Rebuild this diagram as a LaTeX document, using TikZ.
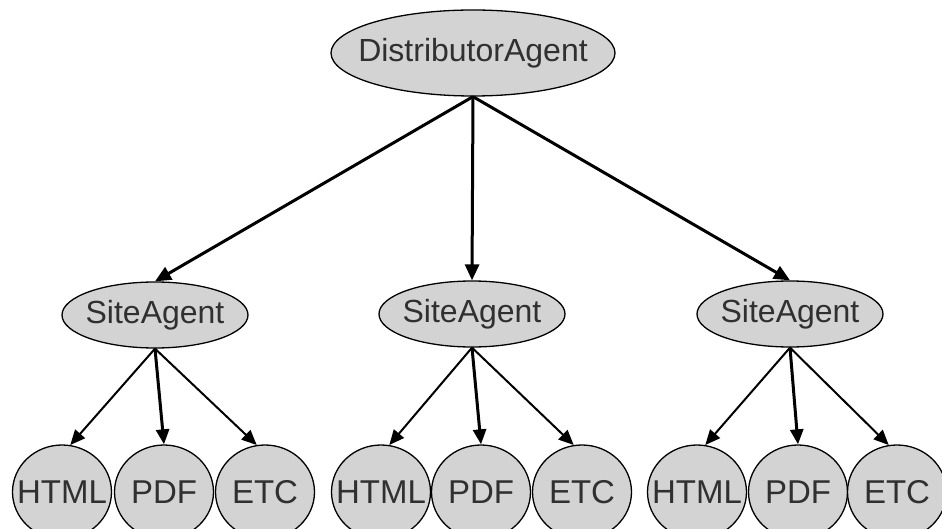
\documentclass[tikz,border=0pt]{standalone}
\usepackage{fontspec}
\setmainfont{Liberation Sans}
\usetikzlibrary{shapes.geometric,arrows.meta}
\definecolor{nodefill}{HTML}{D3D3D3}
\definecolor{txt}{HTML}{303030}
\newcommand{\ztext}[1]{\makebox[0pt]{#1}}
\tikzset{
  agent/.style={ellipse, draw=black, line width=1.3pt, fill=nodefill, inner sep=0pt,
    text=txt, font=\fontsize{32}{32}\selectfont},
  topnode/.style={agent, minimum width=284pt, minimum height=86pt},
  sitenode/.style={agent, minimum width=186pt, minimum height=66pt},
  leafnode/.style={agent, minimum width=99pt, minimum height=94pt, font=\fontsize{33}{33}\selectfont},
  bigedge/.style={line width=3pt, -{Triangle[length=16pt,width=14pt]}},
  edge/.style={line width=2pt, -{Triangle[length=15pt,width=13pt]}},
  midedge/.style={line width=3pt, -{Triangle[length=15pt,width=13pt]}},
}
\begin{document}
\begin{tikzpicture}[x=1pt,y=-1pt]
\useasboundingbox (0,0) rectangle (942,529);
\clip (0,0) rectangle (942,529);
\node[topnode] (D) at (473,53) {\ztext{DistributorAgent}};
\node[sitenode] (S1) at (155,315) {\ztext{SiteAgent}};
\node[sitenode] (S2) at (472,314) {\ztext{SiteAgent}};
\node[sitenode] (S3) at (790,314) {\ztext{SiteAgent}};
\node[leafnode] (H1) at (62,492) {\ztext{HTML}};
\node[leafnode] (P1) at (164,492) {\ztext{PDF}};
\node[leafnode] (E1) at (265,492) {\ztext{ETC}};
\node[leafnode] (H2) at (381,492) {\ztext{HTML}};
\node[leafnode] (P2) at (481,492) {\ztext{PDF}};
\node[leafnode] (E2) at (582,492) {\ztext{ETC}};
\node[leafnode] (H3) at (697,492) {\ztext{HTML}};
\node[leafnode] (P3) at (798,492) {\ztext{PDF}};
\node[leafnode] (E3) at (897,492) {\ztext{ETC}};
\draw[bigedge] (D.south) -- (S1.north);
\draw[bigedge] (D.south) -- (S2.north);
\draw[bigedge] (D.south) -- (S3.north);
\foreach \s/\h/\p/\e in {S1/H1/P1/E1, S2/H2/P2/E2, S3/H3/P3/E3}{
  \draw[edge] (\s.south) -- (\h.80);
  \draw[midedge] (\s.south) -- (\p.north);
  \draw[edge] (\s.south) -- (\e.100);
}
\end{tikzpicture}
\end{document}
